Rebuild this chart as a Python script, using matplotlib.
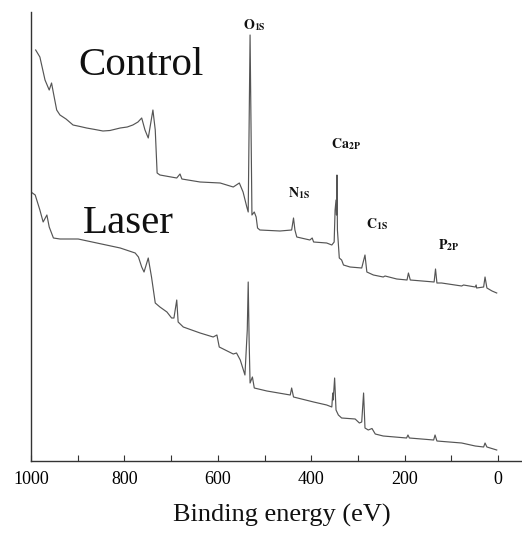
import numpy as np
import matplotlib
matplotlib.use('Agg')
import matplotlib.pyplot as plt

# XPS survey spectra (binding energy in eV, intensity in arbitrary units)
control_energy = [990, 981, 970, 961, 956, 952, 945, 938, 925, 910, 895, 881, 863, 846, 831,
                  809, 794, 782, 771, 763,
                  756, 749, 739, 734, 730, 724, 688, 681, 677, 638, 595, 567, 554, 546, 538,
                  535, 531, 527, 522, 518, 515, 510, 467, 442, 438, 435, 431, 403, 398, 395,
                  367, 356, 351, 349, 347, 346, 345, 344, 340, 335, 331, 317, 292, 285, 281,
                  267, 246, 242, 217, 195, 192, 188, 137, 134, 131, 121, 78, 74, 49, 47,
                  46, 31, 28, 24, 13, 3]
control_counts = [411, 404, 381, 371, 378, 368, 351, 346, 342, 336, 334.5, 333, 331.5, 330, 330.5,
                  333, 334, 336, 339, 343,
                  331, 323, 351, 331, 288, 286, 283, 287, 282, 279, 278, 274, 278, 269, 254,
                  249, 426, 246, 249, 244, 233, 231, 230, 231, 243, 231, 224, 221, 223, 219,
                  218, 216, 219, 251, 261, 246, 286, 231, 203, 201, 196, 194, 193, 206, 189,
                  186, 184, 185, 182, 181, 188, 181, 179, 192, 178, 178, 175, 176, 174, 176,
                  173, 174, 184, 173, 170, 168]

laser_energy = [1000, 991, 981, 974, 966, 961, 952, 938, 899, 859, 809, 777, 770, 763, 758,
                749, 742, 734, 724, 709, 699, 694, 688, 685, 674, 638, 610, 602, 597, 567,
                560, 552, 542, 537, 535, 533, 531, 526, 522, 495, 445, 442, 438, 395, 367,
                356, 354, 353, 350, 347, 342, 335, 306, 297, 292, 288, 285, 278, 270, 263,
                246, 196, 193, 190, 138, 135, 131, 78, 49, 31, 28, 24, 3]
laser_counts = [269, 266, 251, 239, 246, 234, 223, 222, 222, 218, 213, 208, 204, 194, 189,
                203, 184, 158, 154, 149, 143, 143, 161, 139, 134, 128, 124, 126, 114, 107,
                108, 101, 86, 131, 179, 120, 78, 84, 73, 70, 66, 73, 64, 59, 56,
                54, 68, 61, 83, 51, 46, 43, 42, 38, 39, 68, 33, 31, 32.5, 27,
                25, 23, 26, 23, 21, 26, 20, 18, 15, 14, 18, 14, 11]

sample_labels = ['Control', 'Laser']
sample_label_pos = [(0.096, 0.860), (0.106, 0.508)]

peak_labels = [r'$\mathbf{O}_{\mathbf{1S}}$', r'$\mathbf{N}_{\mathbf{1S}}$',
               r'$\mathbf{Ca}_{\mathbf{2P}}$', r'$\mathbf{C}_{\mathbf{1S}}$',
               r'$\mathbf{P}_{\mathbf{2P}}$']
peak_label_pos = [(0.433, 0.962), (0.5245, 0.588), (0.612, 0.697), (0.684, 0.519), (0.831, 0.472)]

plt.rcParams['font.family'] = ['Liberation Serif', 'DejaVu Serif']
plt.rcParams['mathtext.fontset'] = 'stix'

fig = plt.figure(figsize=(5.22, 5.33), dpi=100)
ax = fig.add_axes([31/522, 72/533, 490/522, 449/533])

line_color = '#555555'
ax.plot(control_energy, control_counts, color=line_color, lw=0.85)
ax.plot(laser_energy, laser_counts, color=line_color, lw=0.85)

ax.set_xlim(1000, -49)
ax.set_ylim(0, 449)

for s in ['top', 'right']:
    ax.spines[s].set_visible(False)
for s in ['left', 'bottom']:
    ax.spines[s].set_color('#333333')
    ax.spines[s].set_linewidth(1.0)

ax.set_xticks(np.arange(0, 1001, 200))
ax.set_xticks(np.arange(100, 1000, 200), minor=True)
ax.set_yticks([])
ax.tick_params(axis='x', which='both', direction='in', length=4, width=0.8,
               color='#333333', labelsize=13, pad=7)

for lab, (x, y) in zip(sample_labels, sample_label_pos):
    ax.text(x, y, lab, transform=ax.transAxes, fontsize=29.5, va='baseline', ha='left',
            color='#111111')

for lab, (x, y) in zip(peak_labels, peak_label_pos):
    ax.text(x, y, lab, transform=ax.transAxes, fontsize=10, va='baseline', ha='left',
            color='#111111')

fig.text(282/522, 11/533, 'Binding energy (eV)', fontsize=19, ha='center', va='baseline',
         color='#111111')

plt.savefig('out.png', dpi=100)
